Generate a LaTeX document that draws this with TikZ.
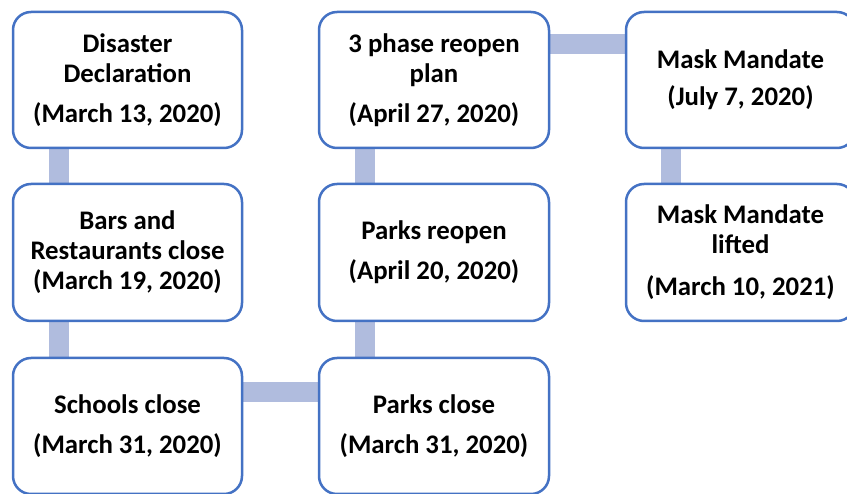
\documentclass[tikz,border=0pt]{standalone}
\usepackage{fontspec}
\setmainfont{Carlito}
\usetikzlibrary{calc,backgrounds}
\definecolor{boxblue}{RGB}{68,114,196}
\definecolor{barblue}{RGB}{176,188,222}
\tikzset{
  evbox/.style={draw=boxblue, line width=2.5pt, fill=white, rounded corners=18pt,
    minimum width=229pt, minimum height=136pt, inner sep=0pt, align=center,
    font=\bfseries\fontsize{26.8}{30}\selectfont},
  linkbar/.style={draw=barblue, line width=20pt, line cap=butt}
}
\begin{document}
\begin{tikzpicture}[x=1pt,y=-1pt]
\useasboundingbox (0,0) rectangle (847,494);
\clip (0,0) rectangle (847,494);
\node[evbox] (dis) at (127.5,80) {Disaster\\Declaration\\[10pt](March 13, 2020)};
\node[evbox, minimum height=137pt] (bar) at (127.5,252.5) {Bars and\\Restaurants close\\(March 19, 2020)};
\node[evbox] (sch) at (127.5,426) {Schools close\\[10pt](March 31, 2020)};
\node[evbox, minimum width=230pt] (pcl) at (434,426) {Parks close\\[10pt](March 31, 2020)};
\node[evbox, minimum width=230pt, minimum height=137pt] (pre) at (434,252.5) {Parks reopen\\[10pt](April 20, 2020)};
\node[evbox, minimum width=230pt] (phs) at (434,80) {3 phase reopen\\plan\\[10pt](April 27, 2020)};
\node[evbox] (msk) at (740.5,80) {Mask Mandate\\[7pt](July 7, 2020)};
\node[evbox, minimum height=137pt] (lft) at (740.5,252.5) {Mask Mandate\\lifted\\[12pt](March 10, 2021)};
\begin{scope}[on background layer]
\draw[linkbar] ($(dis.south west)+(47,0)$) -- ($(bar.north west)+(47,0)$);
\draw[linkbar] ($(bar.south west)+(47,0)$) -- ($(sch.north west)+(47,0)$);
\draw[linkbar] ($(sch.north east)+(0,35)$) -- ($(pcl.north west)+(0,35)$);
\draw[linkbar] ($(pcl.north west)+(47.5,0)$) -- ($(pre.south west)+(47.5,0)$);
\draw[linkbar] ($(pre.north west)+(47.5,0)$) -- ($(phs.south west)+(47.5,0)$);
\draw[linkbar] ($(phs.north east)+(0,33)$) -- ($(msk.north west)+(0,33)$);
\draw[linkbar] ($(msk.south west)+(46.5,0)$) -- ($(lft.north west)+(46.5,0)$);
\end{scope}
\end{tikzpicture}
\end{document}
